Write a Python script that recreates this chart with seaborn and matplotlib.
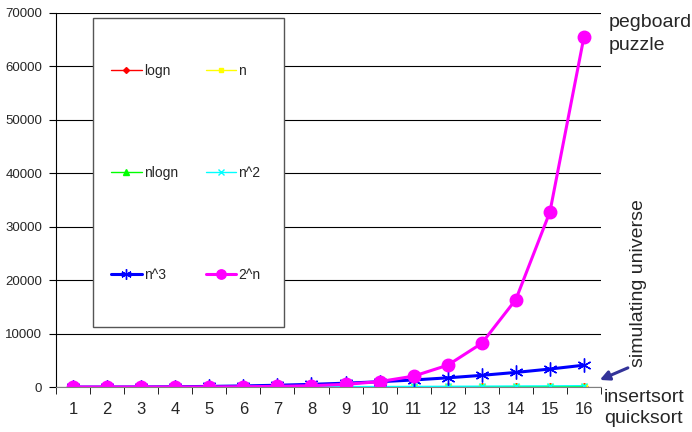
import matplotlib
matplotlib.use("Agg")
import matplotlib.pyplot as plt
import seaborn as sns
import pandas as pd
from matplotlib.patches import Rectangle

# data: growth of common complexity functions for n = 1..16
n = list(range(1, 17))
logn = [0, 1, 1.58, 2, 2.32, 2.58, 2.81, 3, 3.17, 3.32, 3.46, 3.58, 3.70, 3.81, 3.91, 4]
lin = [1, 2, 3, 4, 5, 6, 7, 8, 9, 10, 11, 12, 13, 14, 15, 16]
nlogn = [0, 2, 4.75, 8, 11.6, 15.5, 19.7, 24, 28.5, 33.2, 38.1, 43.0, 48.1, 53.3, 58.6, 64]
n2 = [1, 4, 9, 16, 25, 36, 49, 64, 81, 100, 121, 144, 169, 196, 225, 256]
n3 = [1, 8, 27, 64, 125, 216, 343, 512, 729, 1000, 1331, 1728, 2197, 2744, 3375, 4096]
exp2 = [2, 4, 8, 16, 32, 64, 128, 256, 512, 1024, 2048, 4096, 8192, 16384, 32768, 65536]

series = [
    ("logn", logn, "#FF0000", "D", 1.0, 4),
    ("n", lin, "#FFFF00", "s", 1.0, 4),
    ("nlogn", nlogn, "#00FF00", "^", 1.0, 5),
    ("n^2", n2, "#00FFFF", "x", 1.0, 5),
    ("n^3", n3, "#0000FF", (6, 2, 0), 2.2, 10),
    ("2^n", exp2, "#FF00FF", "o", 2.2, 9),
]

sns.set_style("white")
plt.rcParams['font.family'] = ['Liberation Sans', 'DejaVu Sans']

fig = plt.figure(figsize=(6.92, 4.32), dpi=100)
ax = fig.add_axes([0.081, 0.104, 0.7875, 0.866])

for name, vals, color, marker, lw, ms in series:
    df = pd.DataFrame({"n": n, "v": vals})
    sns.lineplot(data=df, x="n", y="v", ax=ax, color=color, marker=marker,
                 linewidth=lw, markersize=ms, markeredgecolor=color,
                 markeredgewidth=1.0, label=name)

ax.set_xlim(0.5, 16.5)
ax.set_ylim(0, 70000)
ax.set_yticks(range(0, 70001, 10000))
ax.set_xticks(n)
ax.set_xticks([i + 0.5 for i in range(0, 17)], minor=True)
ax.set_xlabel("")
ax.set_ylabel("")
ax.grid(axis="y", color="black", linewidth=0.8)
ax.set_axisbelow(True)
for s in ["top", "right"]:
    ax.spines[s].set_visible(False)
ax.spines["left"].set_color("black")
ax.spines["bottom"].set_color("#808080")
ax.tick_params(axis="y", which="major", direction="out", length=5, color="black",
               left=True, labelsize=9.5, pad=5)
ax.tick_params(axis="x", which="major", length=0, labelsize=12, pad=11)
ax.tick_params(axis="x", which="minor", direction="out", length=5, color="black",
               bottom=True)

# legend box
ax.add_patch(Rectangle((0.068, 0.16), 0.35, 0.827, transform=ax.transAxes,
                       facecolor="white", edgecolor="#555555", linewidth=1.0,
                       zorder=5))
handles, labels = ax.get_legend_handles_labels()
order = [0, 2, 4, 1, 3, 5]  # row-major fill: logn n / nlogn n^2 / n^3 2^n
leg = ax.legend([handles[i] for i in order], [labels[i] for i in order],
                loc="center", bbox_to_anchor=(0.238, 0.573), ncol=2,
                frameon=False, fontsize=10, labelspacing=6.33, markerscale=0.75,
                columnspacing=2.0, handlelength=2.2, handletextpad=0.15)
leg.set_zorder(6)

# annotations
fig.text(0.880, 0.948, "pegboard", fontsize=14, ha="left", va="center")
fig.text(0.880, 0.895, "puzzle", fontsize=14, ha="left", va="center")
fig.text(0.922, 0.345, "simulating universe", fontsize=14, rotation=90,
         ha="center", va="center")
fig.text(0.873, 0.079, "insertsort", fontsize=14, ha="left", va="center")
fig.text(0.873, 0.032, "quicksort", fontsize=14, ha="left", va="center")
ax.annotate("", xy=(0.863, 0.118), xycoords="figure fraction",
            xytext=(0.911, 0.151), textcoords="figure fraction",
            arrowprops=dict(arrowstyle="-|>", color="#333399", lw=2.2,
                            mutation_scale=14))

fig.savefig("out.png", dpi=100)
